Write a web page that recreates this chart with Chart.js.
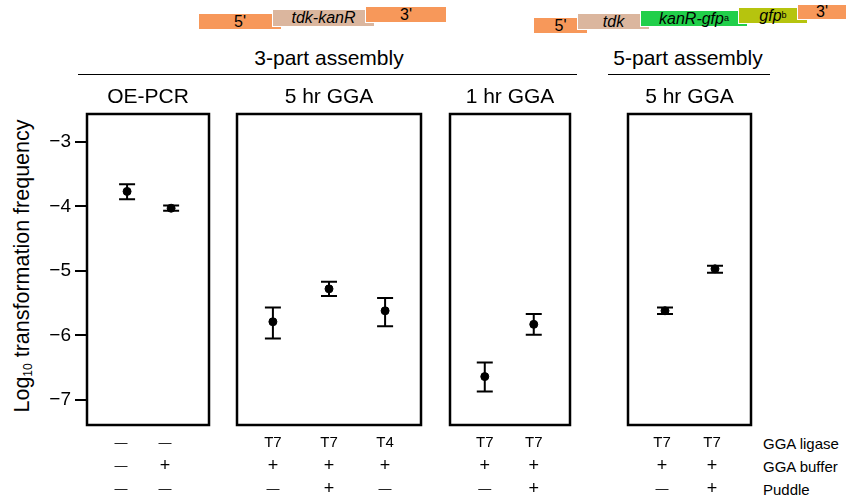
<!DOCTYPE html>
<html>
<head>
<meta charset="utf-8">
<script src="https://cdn.jsdelivr.net/npm/chart.js@4/dist/chart.umd.min.js"></script>
<style>
  html, body { margin: 0; padding: 0; background: #fff; }
  #fig { position: relative; width: 847px; height: 498px; overflow: hidden;
         font-family: "Liberation Sans", Arial, sans-serif; color: #000; }
  .cv { position: absolute; }
  .hdr { position: absolute; font-size: 21px; white-space: nowrap; transform: translate(-50%, -50%); }
  .rule { position: absolute; height: 0; border-top: 1.5px solid #000; }
  .row { position: absolute; font-size: 15px; white-space: nowrap; transform: translateY(-50%); }
  .frag { position: absolute; box-sizing: border-box; border: 1px solid #fff;
          font-size: 16px; line-height: 1; display: flex; align-items: center; justify-content: center; }
  .frag i { font-style: italic; }
  .frag sup { font-size: 9px; vertical-align: 6px; font-style: normal; }
  #ytitle { position: absolute; left: 22px; top: 266px; font-size: 21.5px; white-space: nowrap;
            transform: translate(-50%, -50%) rotate(-90deg); }
  #ytitle sub { font-size: 12px; vertical-align: -3px; }
</style>
</head>
<body>
<div id="fig">
  <!-- fragment diagrams -->
  <div class="frag" style="left:198px;top:13px;width:84px;height:17px;background:#f7985a;">5'</div>
  <div class="frag" style="left:272px;top:9px;width:103px;height:18px;background:#dbb69e;"><i>tdk-kanR</i></div>
  <div class="frag" style="left:365px;top:6px;width:82px;height:17px;background:#f7985a;">3'</div>

  <div class="frag" style="left:533px;top:17px;width:55px;height:17px;background:#f7985a;">5'</div>
  <div class="frag" style="left:577px;top:13px;width:73px;height:17px;background:#dbb69e;"><i>tdk</i></div>
  <div class="frag" style="left:640px;top:10px;width:108px;height:17px;background:#21cf4a;"><i>kanR-gfp</i><sup>a</sup></div>
  <div class="frag" style="left:738px;top:7px;width:70px;height:17px;background:#b6c40e;"><i>gfp</i><sup>b</sup></div>
  <div class="frag" style="left:797px;top:4px;width:50px;height:16px;background:#f7985a;">3'</div>

  <div id="ytitle">Log<sub>10</sub> transformation frequency</div>

  <canvas id="c1" class="cv"></canvas>
  <canvas id="c2" class="cv"></canvas>
  <canvas id="c3" class="cv"></canvas>
  <canvas id="c4" class="cv"></canvas>
</div>
<script>
// ---- data ----
var groupLabels = ['3-part assembly', '5-part assembly'];
var panelLabels = ['OE-PCR', '5 hr GGA', '1 hr GGA', '5 hr GGA'];
var yTicks = [-3, -4, -5, -6, -7];

var oeMean = [-3.77, -4.03];
var oeLow  = [-3.89, -4.07];
var oeHigh = [-3.66, -3.99];

var gga5Mean = [-5.79, -5.28, -5.62];
var gga5Low  = [-6.05, -5.39, -5.86];
var gga5High = [-5.57, -5.17, -5.42];

var gga1Mean = [-6.64, -5.83];
var gga1Low  = [-6.87, -5.99];
var gga1High = [-6.42, -5.67];

var part5Mean = [-5.62, -4.97];
var part5Low  = [-5.67, -5.03];
var part5High = [-5.57, -4.92];

var rowNames  = ['GGA ligase', 'GGA buffer', 'Puddle'];
var ligaseRow = ['\u2014', '\u2014', 'T7', 'T7', 'T4', 'T7', 'T7', 'T7', 'T7'];
var bufferRow = ['\u2014', '+', '+', '+', '+', '+', '+', '+', '+'];
var puddleRow = ['\u2014', '\u2014', '\u2014', '+', '\u2014', '\u2014', '+', '\u2014', '+'];

// ---- layout ----
var FONT = '"Liberation Sans", Arial, sans-serif';
var TOP = 82, PLOT_TOP = 114, PLOT_BOTTOM = 425, H = 498;
Chart.defaults.font.family = FONT;
Chart.defaults.color = '#000';

var fig = document.getElementById('fig');
function addDiv(cls, html, style) {
    var d = document.createElement('div');
    d.className = cls;
    d.innerHTML = html;
    for (var k in style) d.style[k] = style[k];
    fig.appendChild(d);
    return d;
}

// group headers + rules
addDiv('hdr', groupLabels[0], {left: '329px', top: '58px'});
addDiv('hdr', groupLabels[1], {left: '688px', top: '58px'});
addDiv('rule', '', {left: '78px', top: '74px', width: '499px'});
addDiv('rule', '', {left: '608px', top: '74px', width: '162px'});

// row names of the table
rowNames.forEach(function(n, i) {
    addDiv('row', n, {left: '763px', top: (443 + i * 23) + 'px'});
});

var boxPlugin = {
    id: 'panelBox',
    beforeDatasetsDraw: function(chart, args, opts) {
        var ctx = chart.ctx, xs = chart.scales.x, ys = chart.scales.y;
        ctx.save();
        ctx.strokeStyle = '#000';
        ctx.lineWidth = 2;
        for (var i = 0; i < opts.mean.length; i++) {
            var x = xs.getPixelForValue(i + 1);
            var y1 = ys.getPixelForValue(opts.low[i]);
            var y2 = ys.getPixelForValue(opts.high[i]);
            ctx.beginPath();
            ctx.moveTo(x, y1); ctx.lineTo(x, y2);
            ctx.moveTo(x - 8, y1); ctx.lineTo(x + 8, y1);
            ctx.moveTo(x - 8, y2); ctx.lineTo(x + 8, y2);
            ctx.stroke();
        }
        ctx.restore();
    },
    afterDraw: function(chart, args, opts) {
        var ctx = chart.ctx, a = chart.chartArea, xs = chart.scales.x;
        ctx.save();
        ctx.strokeStyle = '#000';
        ctx.lineWidth = 2.5;
        ctx.strokeRect(a.left, a.top, a.right - a.left, a.bottom - a.top);
        // table under the panel
        ctx.fillStyle = '#000';
        ctx.textAlign = 'center';
        ctx.textBaseline = 'middle';
        var rows = [ligaseRow, bufferRow, puddleRow];
        for (var r = 0; r < 3; r++) {
            for (var i = 0; i < opts.mean.length; i++) {
                var t = rows[r][opts.start + i];
                var sz = t === '\u2014' ? 13 : (t === '+' ? 18 : 15);
                ctx.font = sz + 'px ' + FONT;
                ctx.fillText(t, xs.getPixelForValue(i + 1) + opts.shift, a.bottom + 18 + r * 23);
            }
        }
        // panel title
        ctx.font = '21px ' + FONT;
        ctx.fillText(opts.title, (a.left + a.right) / 2, a.top - 17);
        ctx.restore();
    }
};

function makePanel(id, title, mean, low, high, start, left, width, xmin, xmax, showY, shift) {
    var cv = document.getElementById(id);
    var canvasLeft = showY ? 0 : left - 10;
    var canvasWidth = showY ? left + width + 5 : width + 20;
    cv.width = canvasWidth;
    cv.height = H - TOP;
    cv.style.left = canvasLeft + 'px';
    cv.style.top = TOP + 'px';
    var pts = mean.map(function(v, i) { return {x: i + 1, y: v}; });
    var yScale = {
        type: 'linear', display: showY, min: -7.39, max: -2.57,
        afterBuildTicks: function(s) { s.ticks = yTicks.map(function(v) { return {value: v}; }); },
        border: {display: false},
        grid: {drawOnChartArea: false, drawTicks: true, tickLength: 12, color: '#000', lineWidth: 2},
        ticks: {
            padding: 4,
            font: {size: 19, family: FONT},
            color: '#000',
            callback: function(v) { return '\u2212' + Math.abs(v); }
        }
    };
    if (showY) yScale.afterFit = function(s) { s.width = left; };
    return new Chart(cv, {
        type: 'scatter',
        data: {datasets: [{data: pts, backgroundColor: '#000', borderColor: '#000',
                           pointRadius: 4, pointHoverRadius: 4}]},
        options: {
            responsive: false,
            animation: false,
            events: [],
            layout: {padding: {top: PLOT_TOP - TOP, bottom: H - PLOT_BOTTOM,
                               left: showY ? 0 : 10, right: showY ? 5 : 10}},
            plugins: {
                legend: {display: false},
                tooltip: {enabled: false},
                panelBox: {title: title, mean: mean, low: low, high: high, start: start, shift: shift}
            },
            scales: {
                x: {type: 'linear', display: false, min: xmin, max: xmax},
                y: yScale
            }
        },
        plugins: [boxPlugin]
    });
}

makePanel('c1', panelLabels[0], oeMean, oeLow, oeHigh, 0, 87, 122, 0.09, 2.86, true, -6);
makePanel('c2', panelLabels[1], gga5Mean, gga5Low, gga5High, 2, 237, 184, 0.36, 3.64, false, 0);
makePanel('c3', panelLabels[2], gga1Mean, gga1Low, gga1High, 5, 450, 120, 0.29, 2.74, false, 0);
makePanel('c4', panelLabels[3], part5Mean, part5Low, part5High, 7, 628, 123, 0.26, 2.72, false, -3);
</script>
</body>
</html>
